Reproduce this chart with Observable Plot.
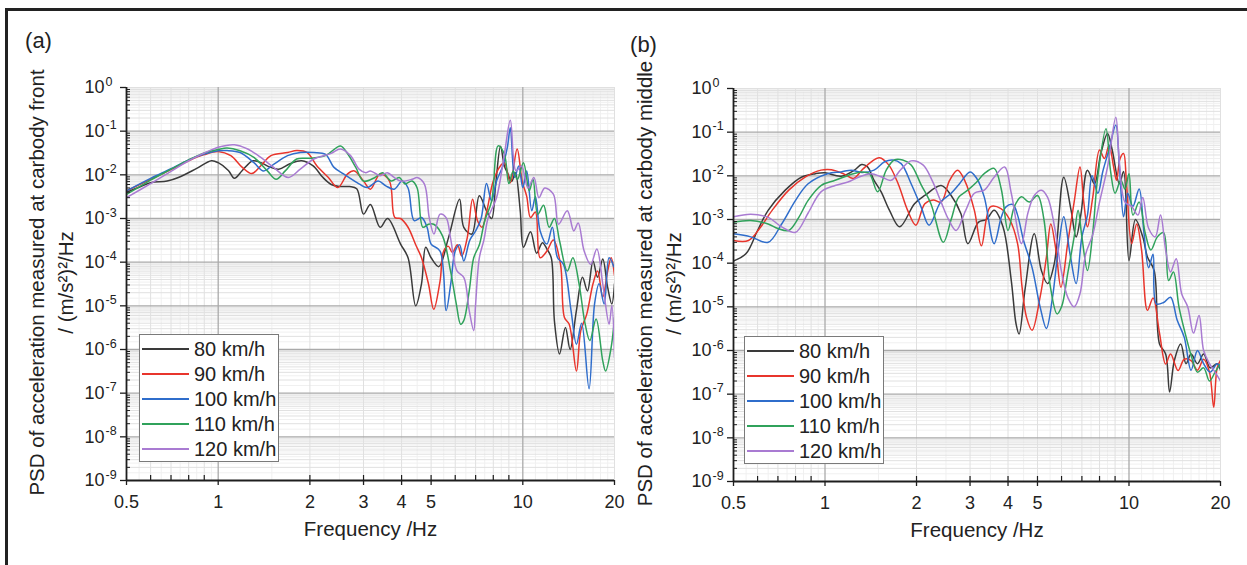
<!DOCTYPE html>
<html><head><meta charset="utf-8">
<script src="https://cdn.jsdelivr.net/npm/d3@7"></script>
<script src="https://cdn.jsdelivr.net/npm/@observablehq/plot@0.6"></script>
<style>
html,body{margin:0;padding:0;background:#fff;}
body{width:1247px;height:565px;overflow:hidden;position:relative;font-family:"Liberation Sans",Arial,sans-serif;}
#frame{position:absolute;left:5px;top:8px;width:1400px;height:700px;border-top:3px solid #222;border-left:3px solid #222;}
.legend{position:absolute;background:#fff;border:1px solid #7a7a7a;box-sizing:border-box;font-size:20px;color:#222;width:140px;height:128px;}
.legend .sw{position:absolute;left:2px;width:47px;height:2px;}
.legend .lb{position:absolute;left:54px;height:25px;line-height:25px;white-space:nowrap;}
</style></head><body>
<div id="frame"></div>
<script>
// ---------- data: [frequency Hz, PSD (m/s^2)^2/Hz] ----------
const speeds = ["80 km/h","90 km/h","100 km/h","110 km/h","120 km/h"];
const colors = ["#3a3a3a","#e8352c","#2f6dcb","#30a25b","#a97bd2"];
const xTicks = [0.5,1,2,3,4,5,10,20];
const xTickLabels = ["0.5","1","2","3","4","5","10","20"];
const yExponents = [0,-1,-2,-3,-4,-5,-6,-7,-8,-9];

const front80 = [[0.5,4.0e-3],[0.55,5.2e-3],[0.6,6.6e-3],[0.68,7.2e-3],[0.74,8.7e-3],[0.85,1.4e-2],[0.95,2.1e-2],[1.0,1.9e-2],[1.08,1.26e-2],[1.13,8.3e-3],[1.2,1.26e-2],[1.3,2.1e-2],[1.38,1.9e-2],[1.48,1.5e-2],[1.58,1.35e-2],[1.72,1.8e-2],[1.88,2.1e-2],[2.05,1.6e-2],[2.2,8.9e-3],[2.35,6.0e-3],[2.5,5.4e-3],[2.7,5.4e-3],[2.85,4.8e-3],[3.0,1.26e-3],[3.16,2.1e-3],[3.4,6.3e-4],[3.6,1.0e-3],[3.97,2.6e-4],[4.2,1.26e-4],[4.45,1.0e-5],[4.65,3.2e-5],[4.8,2.2e-4],[5.0,1.26e-4],[5.3,7.9e-5],[5.7,3.6e-4],[6.2,2.75e-3],[6.4,6.3e-4],[6.8,4.4e-4],[7.2,3.3e-3],[7.6,1.5e-3],[7.9,1.0e-3],[8.15,6.3e-3],[8.45,4.5e-2],[8.7,1.6e-2],[8.9,1.12e-2],[9.2,7.1e-3],[9.45,1.12e-2],[9.8,1.6e-3],[10.05,2.2e-4],[10.6,5.0e-4],[11.1,1.6e-4],[11.6,2.8e-4],[12.0,2.0e-4],[12.4,1.26e-4],[12.7,4.5e-6],[13.2,7.9e-7],[13.8,3.2e-6],[14.3,1.0e-6],[15.0,7.9e-6],[15.7,4.5e-5],[16.3,2.2e-5],[17.0,1.07e-4],[17.6,4.5e-5],[18.3,1.18e-4],[19.0,2.6e-5],[19.6,1.1e-5],[20,3.2e-5]];
const front90 = [[0.5,4.3e-3],[0.6,7.9e-3],[0.7,1.32e-2],[0.8,2.1e-2],[0.9,2.9e-2],[1.0,3.4e-2],[1.1,2.75e-2],[1.2,1.48e-2],[1.29,1.07e-2],[1.38,1.62e-2],[1.49,2.75e-2],[1.69,3.24e-2],[1.81,3.6e-2],[1.96,3.24e-2],[2.11,1.6e-2],[2.3,8.7e-3],[2.47,5.1e-3],[2.66,1.05e-2],[2.8,1.23e-2],[3.0,7.2e-3],[3.16,4.7e-3],[3.4,1.05e-2],[3.65,7.2e-3],[3.8,1.05e-3],[3.97,1.0e-3],[4.2,6.3e-4],[4.45,2.5e-4],[4.65,1.26e-4],[4.9,3.2e-5],[5.1,8.3e-6],[5.35,3.7e-5],[5.5,1.8e-4],[5.7,2.3e-4],[5.87,1.66e-4],[6.1,2.5e-4],[6.3,1.38e-4],[6.57,3.6e-4],[6.84,2.75e-3],[7.1,8.9e-4],[7.35,6.3e-4],[7.62,1.5e-3],[8.0,7.2e-3],[8.45,1.62e-2],[8.7,1.9e-2],[9.1,6.6e-3],[9.58,3.9e-2],[9.95,7.2e-3],[10.3,3.2e-3],[10.6,1.05e-3],[11.0,1.41e-3],[11.4,1.26e-4],[12.0,1.8e-4],[12.6,3.2e-4],[13.3,8.9e-5],[13.7,5.4e-6],[14.2,3.8e-6],[15.0,3.2e-7],[15.5,2.7e-6],[16.2,6.3e-6],[17.0,3.2e-5],[17.6,6.3e-5],[18.3,1.6e-5],[19.0,6.3e-5],[19.5,1.26e-4],[20,5.0e-5]];
const front100 = [[0.5,4.3e-3],[0.6,8.3e-3],[0.7,1.38e-2],[0.8,2.2e-2],[0.9,3.0e-2],[1.0,3.55e-2],[1.07,3.6e-2],[1.18,3.24e-2],[1.31,1.9e-2],[1.41,1.23e-2],[1.52,1.74e-2],[1.69,2.75e-2],[1.86,3.24e-2],[2.06,3.24e-2],[2.25,2.95e-2],[2.4,1.48e-2],[2.58,1.05e-2],[2.9,6.2e-3],[3.08,5.1e-3],[3.35,7.2e-3],[3.55,5.6e-3],[3.78,4.7e-3],[4.02,7.2e-3],[4.2,5.0e-3],[4.4,8.9e-4],[4.65,1.05e-3],[4.85,6.3e-4],[5.0,2.6e-4],[5.35,1.8e-4],[5.6,7.8e-6],[5.8,3.2e-5],[6.0,1.8e-4],[6.2,2.5e-4],[6.4,1.07e-4],[6.7,3.2e-4],[7.0,5.2e-4],[7.3,1.0e-3],[7.6,6.3e-3],[7.9,2.5e-3],[8.2,7.2e-3],[8.6,1.6e-2],[8.9,4.3e-2],[9.1,1.2e-1],[9.4,8.7e-3],[9.7,1.6e-2],[10.0,5.1e-3],[10.3,1.23e-2],[10.7,1.5e-3],[11.0,3.2e-3],[11.4,5.2e-4],[12.0,2.6e-4],[12.5,6.3e-4],[13.0,1.26e-4],[13.6,8.9e-5],[14.4,7.8e-6],[15.0,1.32e-6],[15.6,4.0e-6],[16.5,1.26e-7],[17.2,1.1e-5],[17.8,3.2e-5],[18.5,1.1e-5],[19.2,1.26e-4],[19.9,7.9e-5]];
const front110 = [[0.5,3.55e-3],[0.6,7.6e-3],[0.7,1.35e-2],[0.8,2.2e-2],[0.9,3.16e-2],[1.0,3.8e-2],[1.07,4.1e-2],[1.18,3.55e-2],[1.31,2.5e-2],[1.45,1.23e-2],[1.55,7.9e-3],[1.66,1.23e-2],[1.81,2.3e-2],[2.0,2.4e-2],[2.25,2.75e-2],[2.52,4.6e-2],[2.65,3.16e-2],[2.83,1.48e-2],[3.0,7.2e-3],[3.27,8.7e-3],[3.46,1.12e-2],[3.7,7.2e-3],[3.93,8.7e-3],[4.1,6.2e-3],[4.33,7.2e-3],[4.5,5.0e-3],[4.7,6.3e-4],[4.9,7.4e-4],[5.1,7.4e-4],[5.45,4.0e-4],[5.79,6.3e-5],[6.05,1.1e-5],[6.25,3.8e-6],[6.4,4.6e-6],[6.67,2.2e-5],[6.9,1.26e-4],[7.2,2.5e-4],[7.5,8.9e-4],[7.9,2.5e-3],[8.3,4.6e-2],[8.7,2.95e-2],[9.0,6.3e-3],[9.3,1.23e-2],[9.6,7.9e-3],[10.05,1.9e-2],[10.5,4.3e-3],[10.8,7.9e-3],[11.2,1.26e-3],[11.7,2.0e-3],[12.2,6.3e-4],[12.7,1.0e-3],[13.2,3.1e-4],[14.0,6.3e-5],[14.6,1.26e-4],[15.3,3.2e-5],[16.0,4.0e-6],[16.6,1.6e-6],[17.4,5.0e-6],[18.3,5.5e-7],[18.7,3.2e-7],[19.5,1.12e-6],[20,5.4e-6]];
const front120 = [[0.5,3.0e-3],[0.6,6.3e-3],[0.7,1.2e-2],[0.8,2.1e-2],[0.9,3.16e-2],[1.0,4.3e-2],[1.13,4.9e-2],[1.25,3.9e-2],[1.38,2.5e-2],[1.52,1.48e-2],[1.7,8.7e-3],[1.86,1.35e-2],[2.06,2.3e-2],[2.35,3.1e-2],[2.52,3.9e-2],[2.72,2.75e-2],[2.9,1.35e-2],[3.05,1.12e-2],[3.16,1.23e-2],[3.4,9.5e-3],[3.59,1.12e-2],[3.78,8.7e-3],[3.97,7.2e-3],[4.33,7.9e-3],[4.5,8.7e-3],[4.75,6.2e-3],[4.93,1.05e-3],[5.11,4.4e-4],[5.35,1.26e-3],[5.6,1.05e-3],[5.79,3.6e-4],[6.08,6.3e-5],[6.4,4.5e-5],[6.67,7.8e-6],[6.9,2.7e-6],[7.0,1.1e-5],[7.2,1.26e-4],[7.45,3.2e-4],[7.7,1.05e-3],[8.2,3.0e-3],[8.7,2.95e-2],[9.1,1.78e-1],[9.5,1.23e-2],[9.9,1.6e-2],[10.4,5.0e-3],[10.87,8.7e-3],[11.3,3.0e-3],[11.8,5.0e-3],[12.6,3.6e-3],[13.1,7.4e-4],[14.0,1.5e-3],[14.7,5.2e-4],[15.2,7.9e-4],[15.9,1.8e-4],[16.7,8.9e-5],[17.5,2.0e-4],[18.3,3.2e-5],[19.2,3.8e-6],[19.6,1.0e-5],[20,6.6e-7]];

const middle80 = [[0.5,1.12e-4],[0.55,1.66e-4],[0.6,5.6e-4],[0.65,1.62e-3],[0.74,4.7e-3],[0.836,9.3e-3],[0.93,1.12e-2],[1.0,1.17e-2],[1.13,9.8e-3],[1.25,1.35e-2],[1.32,1.82e-2],[1.38,1.6e-2],[1.45,7.9e-3],[1.53,4.3e-3],[1.63,1.62e-3],[1.76,6.8e-4],[1.97,2.3e-3],[2.13,3.55e-3],[2.41,6.0e-3],[2.6,3.55e-3],[2.8,1.35e-3],[2.95,2.8e-4],[3.2,8.7e-4],[3.4,1.0e-3],[3.6,1.62e-3],[3.85,6.8e-4],[4.1,4.0e-5],[4.25,4.1e-6],[4.35,2.4e-6],[4.55,2.5e-5],[4.88,4.7e-4],[5.15,6.8e-5],[5.4,3.4e-5],[5.68,9.8e-5],[6.1,9.3e-3],[6.45,1.62e-3],[6.7,4.0e-4],[6.95,1.35e-3],[7.3,1.35e-2],[7.7,6.6e-3],[8.08,3.24e-2],[8.5,9.3e-2],[8.8,4.0e-2],[9.3,6.6e-3],[9.6,1.26e-2],[10.0,1.15e-4],[10.5,1.0e-3],[11.1,4.0e-4],[11.5,1.38e-4],[12.1,6.8e-5],[12.6,1.41e-6],[13.2,8.3e-7],[13.6,1.12e-7],[14.1,5.9e-7],[14.8,1.41e-6],[15.4,5.0e-7],[16.0,8.3e-7],[16.8,5.0e-7],[17.6,8.3e-7],[18.5,4.0e-7],[19.5,5.0e-7],[20,3.5e-7]];
const middle90 = [[0.5,3.3e-4],[0.56,3.3e-4],[0.61,6.3e-4],[0.67,1.62e-3],[0.76,4.7e-3],[0.86,9.3e-3],[0.97,1.35e-2],[1.05,1.38e-2],[1.15,1.12e-2],[1.24,8.7e-3],[1.33,1.41e-2],[1.42,2.1e-2],[1.51,2.6e-2],[1.62,1.78e-2],[1.74,6.6e-3],[1.87,1.62e-3],[1.99,7.4e-4],[2.13,2.3e-3],[2.27,2.8e-3],[2.41,2.5e-3],[2.57,7.9e-3],[2.73,1.35e-2],[2.88,7.9e-3],[3.1,1.62e-3],[3.27,2.5e-4],[3.5,1.95e-3],[3.79,1.78e-3],[4.05,1.0e-3],[4.3,2.8e-4],[4.45,2.8e-5],[4.6,5.8e-6],[4.8,2.9e-6],[5.1,1.66e-5],[5.35,1.38e-4],[5.53,7.9e-4],[5.75,2.0e-4],[5.97,2.8e-5],[6.3,3.2e-4],[6.6,2.5e-3],[6.9,1.6e-2],[7.1,2.5e-3],[7.3,6.8e-4],[7.6,3.2e-3],[8.0,3.9e-2],[8.3,2.5e-2],[8.6,5.0e-2],[8.9,1.6e-2],[9.1,7.9e-3],[9.35,2.5e-2],[9.6,3.24e-2],[9.8,7.9e-3],[10.2,2.8e-4],[10.6,7.9e-4],[11.0,2.0e-4],[11.5,8.3e-6],[12.0,1.6e-5],[12.6,2.5e-6],[13.2,4.9e-7],[13.7,8.3e-7],[14.5,3.5e-7],[15.2,6.3e-7],[16.0,5.9e-7],[16.8,3.55e-7],[17.6,6.3e-7],[18.4,3.2e-7],[19.0,5.0e-8],[19.5,4.0e-7],[20,5.9e-7]];
const middle100 = [[0.5,4.7e-4],[0.57,4.0e-4],[0.65,3.0e-4],[0.72,7.9e-4],[0.8,2.75e-3],[0.88,6.6e-3],[1.02,1.12e-2],[1.13,1.23e-2],[1.22,1.35e-2],[1.32,1.2e-2],[1.45,1.35e-2],[1.57,2.1e-2],[1.67,2.3e-2],[1.78,1.9e-2],[1.92,6.6e-3],[2.07,1.95e-3],[2.2,7.4e-4],[2.4,2.5e-3],[2.6,4.0e-3],[2.77,6.6e-3],[3.0,1.23e-2],[3.15,8.9e-3],[3.34,3.3e-3],[3.6,2.8e-4],[3.8,1.12e-3],[3.94,1.95e-3],[4.15,2.2e-3],[4.3,1.26e-3],[4.5,3.3e-4],[4.8,7.9e-5],[5.1,1.0e-5],[5.35,3.2e-6],[5.6,1.6e-5],[5.85,2.0e-4],[6.1,1.15e-3],[6.4,1.6e-4],[6.7,3.4e-5],[7.0,4.0e-4],[7.3,1.26e-3],[7.56,1.0e-2],[7.9,4.0e-3],[8.2,1.26e-2],[8.6,4.0e-2],[9.05,1.45e-1],[9.3,1.6e-2],[9.6,1.15e-3],[9.9,4.0e-3],[10.3,2.0e-3],[10.8,5.0e-3],[11.2,5.0e-4],[11.6,7.9e-5],[12.0,1.6e-4],[12.3,1.17e-5],[13.0,1.26e-5],[13.7,1.66e-5],[14.4,5.0e-6],[15.2,2.0e-6],[16.0,3.55e-7],[16.8,1.0e-6],[17.6,5.0e-7],[18.5,3.2e-7],[19.5,5.0e-7],[20,4.0e-7]];
const middle110 = [[0.5,8.7e-4],[0.57,9.5e-4],[0.65,7.9e-4],[0.7,6.2e-4],[0.76,5.6e-4],[0.82,1.12e-3],[0.88,2.75e-3],[0.97,6.0e-3],[1.08,7.9e-3],[1.19,1.02e-2],[1.32,1.23e-2],[1.4,1.12e-2],[1.49,4.3e-3],[1.59,1.35e-2],[1.69,2.3e-2],[1.8,2.3e-2],[1.92,1.78e-2],[2.07,6.3e-3],[2.23,2.3e-3],[2.45,3.0e-4],[2.6,1.0e-3],[2.75,3.2e-3],[2.95,4.7e-3],[3.15,7.1e-3],[3.34,1.12e-2],[3.6,1.48e-2],[3.8,5.0e-3],[4.0,5.6e-4],[4.2,2.0e-3],[4.43,3.3e-3],[4.7,2.5e-3],[5.0,3.55e-3],[5.25,1.0e-3],[5.5,3.2e-5],[5.8,6.9e-6],[6.0,1.0e-5],[6.3,6.3e-5],[6.6,4.0e-4],[6.8,1.62e-3],[7.0,4.0e-4],[7.3,6.8e-5],[7.6,5.0e-4],[7.9,1.0e-2],[8.4,1.2e-1],[8.7,1.26e-2],[9.0,4.0e-3],[9.4,7.9e-3],[9.7,5.0e-3],[10.0,1.12e-2],[10.3,1.26e-3],[10.8,2.5e-3],[11.3,5.0e-4],[11.8,2.0e-4],[12.4,4.0e-4],[13.0,5.0e-4],[13.5,4.0e-5],[14.0,6.3e-5],[14.6,1.0e-5],[15.3,2.5e-6],[16.0,7.9e-7],[16.8,3.2e-7],[17.6,4.0e-7],[18.4,2.0e-7],[19.2,3.2e-7],[20,5.0e-7]];
const middle120 = [[0.5,1.15e-3],[0.57,1.32e-3],[0.65,1.12e-3],[0.72,6.8e-4],[0.8,5.1e-4],[0.88,1.41e-3],[0.97,4.3e-3],[1.08,6.0e-3],[1.19,7.2e-3],[1.3,9.5e-3],[1.42,1.12e-2],[1.53,9.5e-3],[1.65,7.9e-3],[1.78,1.41e-2],[1.92,2.2e-2],[2.1,1.78e-2],[2.25,7.9e-3],[2.41,2.5e-3],[2.55,1.0e-3],[2.7,5.6e-4],[2.9,1.6e-3],[3.1,4.0e-3],[3.34,4.7e-3],[3.6,9.3e-3],[3.9,1.6e-2],[4.1,4.0e-3],[4.43,2.8e-4],[4.65,1.41e-3],[4.88,3.55e-3],[5.15,4.7e-3],[5.4,3.2e-3],[5.7,6.3e-4],[6.0,6.3e-5],[6.3,1.6e-5],[6.6,1.0e-5],[6.9,2.0e-5],[7.2,1.6e-4],[7.6,4.5e-4],[8.0,2.5e-3],[8.5,1.6e-2],[9.05,2.2e-1],[9.3,2.0e-2],[9.7,2.5e-3],[10.2,2.0e-3],[10.7,1.26e-3],[11.1,3.2e-3],[11.6,6.3e-4],[12.2,4.0e-4],[12.7,1.26e-3],[13.2,2.0e-4],[13.7,6.3e-5],[14.3,1.26e-4],[14.9,2.0e-5],[15.6,1.0e-5],[16.3,2.5e-6],[17.0,6.3e-6],[17.6,1.0e-6],[18.4,5.0e-7],[19.2,3.2e-7],[20,2.0e-7]];

const frontSeries = [front80, front90, front100, front110, front120];
const middleSeries = [middle80, middle90, middle100, middle110, middle120];

// ---------- drawing ----------
const FONT = '"Liberation Sans", Arial, sans-serif';
const H = 565;

function makePanel(series, o) {
  const fw = o.width - o.mL - o.mR, fh = H - o.mT - o.mB;
  const yDec = yExponents.map(e => Math.pow(10, e));
  const yMinor = [], yFine = [];
  for (let e = -9; e < 0; e++) {
    for (let m = 2; m <= 9; m++) yMinor.push(m * Math.pow(10, e));
    for (let m = 1.5; m < 10; m += 1) yFine.push(m * Math.pow(10, e));
  }
  const xMinor = [0.6,0.7,0.8,0.9,2,3,4,5,6,7,8,9];
  const xFine = [0.55,0.65,0.75,0.85,0.95,1.5,2.5,3.5,4.5,5.5,6.5,7.5,8.5,9.5,11,12,13,14,15,16,17,18,19];
  const ink = "#1e1e1e";
  const svg = Plot.plot({
    width: o.width, height: H,
    marginLeft: o.mL, marginRight: o.mR, marginTop: o.mT, marginBottom: o.mB,
    style: {fontFamily: FONT, background: "transparent", overflow: "visible"},
    x: {type: "log", domain: [0.5, 20], axis: null},
    y: {type: "log", domain: [1e-9, 1], axis: null},
    marks: [
      Plot.ruleX(xFine, {stroke: "#f0f0f0", strokeWidth: 1}),
      Plot.ruleY(yFine, {stroke: "#f0f0f0", strokeWidth: 1}),
      Plot.ruleX(xMinor.concat([20]), {stroke: "#e0e0e0", strokeWidth: 1}),
      Plot.ruleY(yMinor.concat([1]), {stroke: "#e0e0e0", strokeWidth: 1}),
      Plot.ruleX([1, 10], {stroke: "#aaaaaa", strokeWidth: 1.3}),
      Plot.ruleY(yDec.slice(1, 9), {stroke: "#aaaaaa", strokeWidth: 1.3}),
      ...series.map((s, i) => Plot.line(s, {x: d => d[0], y: d => d[1], stroke: colors[i], strokeWidth: 1.5, curve: "catmull-rom", clip: true})),
      Plot.ruleX([0.5], {stroke: ink, strokeWidth: 1.8}),
      Plot.ruleY([1e-9], {stroke: ink, strokeWidth: 1.8}),
      Plot.ruleY(yDec, {insetLeft: -6, insetRight: fw, stroke: ink, strokeWidth: 1.3}),
      Plot.ruleY(yMinor, {insetRight: fw - 4, stroke: ink, strokeWidth: 1}),
      Plot.ruleX(xMinor, {insetTop: fh - 5, stroke: ink, strokeWidth: 1.2}),
      Plot.ruleX(xTicks, {insetTop: fh, insetBottom: -5, stroke: ink, strokeWidth: 1.3}),
      Plot.text(yDec, {y: d => d, frameAnchor: "left", text: () => "10", textAnchor: "end", lineAnchor: "middle", dx: -22, fontSize: 18, fill: "#222"}),
      Plot.text(yDec, {y: d => d, frameAnchor: "left", text: (d, i) => String(yExponents[i]), textAnchor: "start", lineAnchor: "middle", dx: -21, dy: -6, fontSize: 12.5, fill: "#222"}),
      Plot.text(xTicks, {x: d => d, frameAnchor: "bottom", text: (d, i) => xTickLabels[i], textAnchor: "middle", lineAnchor: "middle", dy: 22, fontSize: 18, fill: "#222"}),
      Plot.text(["Frequency /Hz"], {frameAnchor: "bottom", text: d => d, textAnchor: "middle", lineAnchor: "middle", dy: 49, fontSize: 20.5, fill: "#222"}),
      Plot.text([o.title1], {frameAnchor: "left", text: d => d, rotate: -90, textAnchor: "middle", lineAnchor: "middle", dx: o.t1dx, dy: -1.5, fontSize: 20.5, fill: "#222"}),
      Plot.text(["/ (m/s²)²/Hz"], {frameAnchor: "left", text: d => d, rotate: -90, textAnchor: "middle", lineAnchor: "middle", dx: o.t2dx, dy: -1.5, fontSize: 20.5, fill: "#222"}),
      Plot.text([o.tag], {frameAnchor: "top-left", text: d => d, textAnchor: "middle", lineAnchor: "middle", dx: o.tagDx, dy: o.tagDy, fontSize: 22, fill: "#222"})
    ]
  });
  svg.style.position = "absolute";
  svg.style.left = o.left + "px";
  svg.style.top = "0px";
  document.body.appendChild(svg);
}

function makeLegend(left, top) {
  const box = document.createElement("div");
  box.className = "legend";
  box.style.left = left + "px";
  box.style.top = top + "px";
  speeds.forEach((s, i) => {
    const cy = 14 + 25 * i;
    const sw = document.createElement("div");
    sw.className = "sw";
    sw.style.top = (cy - 1) + "px";
    sw.style.background = colors[i];
    const lb = document.createElement("div");
    lb.className = "lb";
    lb.style.top = (cy - 12.5) + "px";
    lb.textContent = s;
    box.appendChild(sw); box.appendChild(lb);
  });
  document.body.appendChild(box);
}

makePanel(frontSeries, {left: 0, width: 620, mL: 126, mR: 6, mT: 87, mB: 85,
  title1: "PSD of acceleration measured at carbody front", t1dx: -89, t2dx: -60,
  tag: "(a)", tagDx: -88, tagDy: -47});
makePanel(middleSeries, {left: 620, width: 627, mL: 113, mR: 27, mT: 88, mB: 84,
  title1: "PSD of acceleration measured at carbody middle", t1dx: -88, t2dx: -59,
  tag: "(b)", tagDx: -90, tagDy: -44});
makeLegend(139, 334);
makeLegend(744, 336);
</script>
</body></html>
